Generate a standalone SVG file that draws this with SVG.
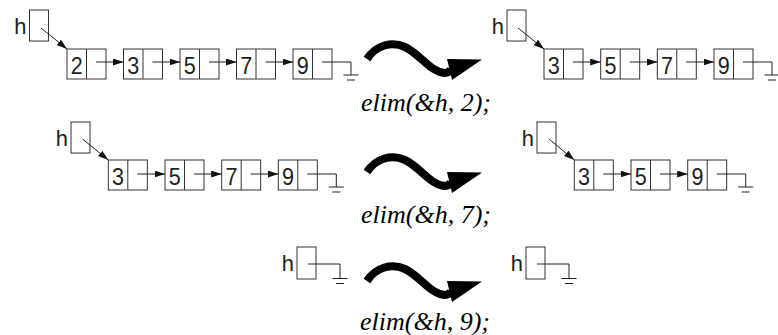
<svg xmlns="http://www.w3.org/2000/svg" width="778" height="335" viewBox="0 0 778 335">
  <style>
    .box { fill: #fff; stroke: #333; stroke-width: 1; }
    .div { stroke: #333; stroke-width: 1; }
    .ptr { stroke: #222; stroke-width: 1; fill: none; }
    .gnd { stroke: #222; stroke-width: 1; fill: none; }
    .num { font-family: "Liberation Sans", Arial, sans-serif; font-size: 24px; fill: #222; text-anchor: middle; }
    .var { font-family: "Liberation Mono", "Courier New", monospace; font-size: 22px; fill: #222; text-anchor: end; }
    .call { font-family: "Liberation Serif", "Times New Roman", serif; font-style: italic; font-size: 26px; fill: #000; text-anchor: middle; }
    .squig { fill: none; stroke: #000; stroke-width: 8; stroke-linecap: butt; }
  </style>
  <defs>
    <marker id="arr" markerUnits="userSpaceOnUse" markerWidth="11" markerHeight="7" refX="10.5" refY="3.5" orient="auto">
      <path d="M0,0 L10.5,3.5 L0,7 z" fill="#111"/>
    </marker>
    <!-- one list cell: value half + link half -->
    <g id="cell">
      <rect class="box" x="0" y="0" width="39" height="30"/>
      <line class="div" x1="19.5" y1="0" x2="19.5" y2="30"/>
    </g>
    <!-- null terminator drawn from the link half of a cell -->
    <g id="null">
      <path class="gnd" d="M0,0 H29 V13"/>
      <line class="gnd" x1="21.5" y1="13" x2="36.5" y2="13"/>
      <line class="gnd" x1="25" y1="18" x2="33" y2="18"/>
    </g>
    <!-- transformation arrow -->
    <g id="squiggle">
      <path class="squig" d="M367,59 C376,45 392,41 405,47 C420,54 430,72 445,73 C448,73 450,71 451,69"/>
      <polygon points="447,59 482,59.5 452,80" fill="#000"/>
    </g>
  </defs>

  <!-- ===== Row 1: before ===== -->
  <g id="r1a-head">
    <text class="var" x="27" y="34">h</text>
    <rect class="box" x="29.5" y="10" width="19" height="31"/>
  </g>
  <g id="r1a-n2"><use href="#cell" x="67" y="49"/><text class="num" x="76.8" y="73.5" textLength="12" lengthAdjust="spacingAndGlyphs">2</text></g>
  <g id="r1a-n3"><use href="#cell" x="123.5" y="49"/><text class="num" x="133.3" y="73.5" textLength="12" lengthAdjust="spacingAndGlyphs">3</text></g>
  <g id="r1a-n5"><use href="#cell" x="180" y="49"/><text class="num" x="189.8" y="73.5" textLength="12" lengthAdjust="spacingAndGlyphs">5</text></g>
  <g id="r1a-n7"><use href="#cell" x="236.5" y="49"/><text class="num" x="246.3" y="73.5" textLength="12" lengthAdjust="spacingAndGlyphs">7</text></g>
  <g id="r1a-n9"><use href="#cell" x="293" y="49"/><text class="num" x="302.8" y="73.5" textLength="12" lengthAdjust="spacingAndGlyphs">9</text></g>

  <!-- ===== Row 1: after ===== -->
  <g id="r1b-head">
    <text class="var" x="504.5" y="34">h</text>
    <rect class="box" x="507" y="10" width="19" height="31"/>
  </g>
  <g id="r1b-n3"><use href="#cell" x="544" y="49"/><text class="num" x="553.8" y="73.5" textLength="12" lengthAdjust="spacingAndGlyphs">3</text></g>
  <g id="r1b-n5"><use href="#cell" x="600.7" y="49"/><text class="num" x="610.5" y="73.5" textLength="12" lengthAdjust="spacingAndGlyphs">5</text></g>
  <g id="r1b-n7"><use href="#cell" x="657.3" y="49"/><text class="num" x="667.1" y="73.5" textLength="12" lengthAdjust="spacingAndGlyphs">7</text></g>
  <g id="r1b-n9"><use href="#cell" x="714" y="49"/><text class="num" x="723.8" y="73.5" textLength="12" lengthAdjust="spacingAndGlyphs">9</text></g>

  <!-- ===== Row 2: before ===== -->
  <g id="r2a-head">
    <text class="var" x="68.5" y="146">h</text>
    <rect class="box" x="71" y="122" width="19" height="31"/>
  </g>
  <g id="r2a-n3"><use href="#cell" x="108.3" y="160"/><text class="num" x="118.1" y="184.5" textLength="12" lengthAdjust="spacingAndGlyphs">3</text></g>
  <g id="r2a-n5"><use href="#cell" x="165" y="160"/><text class="num" x="174.8" y="184.5" textLength="12" lengthAdjust="spacingAndGlyphs">5</text></g>
  <g id="r2a-n7"><use href="#cell" x="221.7" y="160"/><text class="num" x="231.5" y="184.5" textLength="12" lengthAdjust="spacingAndGlyphs">7</text></g>
  <g id="r2a-n9"><use href="#cell" x="278.3" y="160"/><text class="num" x="288.1" y="184.5" textLength="12" lengthAdjust="spacingAndGlyphs">9</text></g>

  <!-- ===== Row 2: after ===== -->
  <g id="r2b-head">
    <text class="var" x="534.5" y="146">h</text>
    <rect class="box" x="537" y="122" width="19" height="31"/>
  </g>
  <g id="r2b-n3"><use href="#cell" x="574.3" y="160"/><text class="num" x="584.1" y="184.5" textLength="12" lengthAdjust="spacingAndGlyphs">3</text></g>
  <g id="r2b-n5"><use href="#cell" x="631" y="160"/><text class="num" x="640.8" y="184.5" textLength="12" lengthAdjust="spacingAndGlyphs">5</text></g>
  <g id="r2b-n9"><use href="#cell" x="687.7" y="160"/><text class="num" x="697.5" y="184.5" textLength="12" lengthAdjust="spacingAndGlyphs">9</text></g>

  <!-- ===== Row 3: before / after (single empty head) ===== -->
  <g id="r3a-head">
    <text class="var" x="294.5" y="271">h</text>
    <rect class="box" x="297" y="247" width="19" height="32"/>
  </g>
  <g id="r3b-head">
    <text class="var" x="523.5" y="271">h</text>
    <rect class="box" x="526" y="247" width="19" height="32"/>
  </g>

  <!-- ===== Connectors ===== -->
  <g id="connectors">
    <!-- head pointers -->
    <line class="ptr" x1="41" y1="28" x2="67" y2="49" marker-end="url(#arr)"/>
    <line class="ptr" x1="518" y1="28" x2="544" y2="49" marker-end="url(#arr)"/>
    <line class="ptr" x1="82.5" y1="139" x2="108.3" y2="160" marker-end="url(#arr)"/>
    <line class="ptr" x1="549" y1="139" x2="574.3" y2="160" marker-end="url(#arr)"/>

    <!-- next links, row 1 -->
    <line class="ptr" x1="96" y1="62" x2="123.5" y2="62" marker-end="url(#arr)"/>
    <line class="ptr" x1="152.5" y1="62" x2="180" y2="62" marker-end="url(#arr)"/>
    <line class="ptr" x1="209" y1="62" x2="236.5" y2="62" marker-end="url(#arr)"/>
    <line class="ptr" x1="265.5" y1="62" x2="293" y2="62" marker-end="url(#arr)"/>
    <use href="#null" x="322" y="62"/>

    <line class="ptr" x1="573" y1="62" x2="600.7" y2="62" marker-end="url(#arr)"/>
    <line class="ptr" x1="629.7" y1="62" x2="657.3" y2="62" marker-end="url(#arr)"/>
    <line class="ptr" x1="686.3" y1="62" x2="714" y2="62" marker-end="url(#arr)"/>
    <use href="#null" x="743" y="62"/>

    <!-- next links, row 2 -->
    <line class="ptr" x1="137.3" y1="174" x2="165" y2="174" marker-end="url(#arr)"/>
    <line class="ptr" x1="194" y1="174" x2="221.7" y2="174" marker-end="url(#arr)"/>
    <line class="ptr" x1="250.7" y1="174" x2="278.3" y2="174" marker-end="url(#arr)"/>
    <use href="#null" x="307.3" y="174"/>

    <line class="ptr" x1="603.3" y1="174" x2="631" y2="174" marker-end="url(#arr)"/>
    <line class="ptr" x1="660" y1="174" x2="687.7" y2="174" marker-end="url(#arr)"/>
    <use href="#null" x="716.7" y="174"/>

    <!-- row 3: empty lists -->
    <g transform="translate(308,264)">
      <path class="gnd" d="M0,0 H32 V14.5"/>
      <line class="gnd" x1="24.5" y1="14.5" x2="39.5" y2="14.5"/>
      <line class="gnd" x1="28" y1="19.5" x2="36" y2="19.5"/>
    </g>
    <g transform="translate(537,264)">
      <path class="gnd" d="M0,0 H32 V14.5"/>
      <line class="gnd" x1="24.5" y1="14.5" x2="39.5" y2="14.5"/>
      <line class="gnd" x1="28" y1="19.5" x2="36" y2="19.5"/>
    </g>
  </g>

  <!-- ===== Operations ===== -->
  <g id="op1">
    <use href="#squiggle"/>
    <text class="call" x="426" y="111">elim(&amp;h, 2);</text>
  </g>
  <g id="op2">
    <use href="#squiggle" transform="translate(0,113)"/>
    <text class="call" x="426" y="223">elim(&amp;h, 7);</text>
  </g>
  <g id="op3">
    <use href="#squiggle" transform="translate(0,222)"/>
    <text class="call" x="425" y="330">elim(&amp;h, 9);</text>
  </g>
</svg>
